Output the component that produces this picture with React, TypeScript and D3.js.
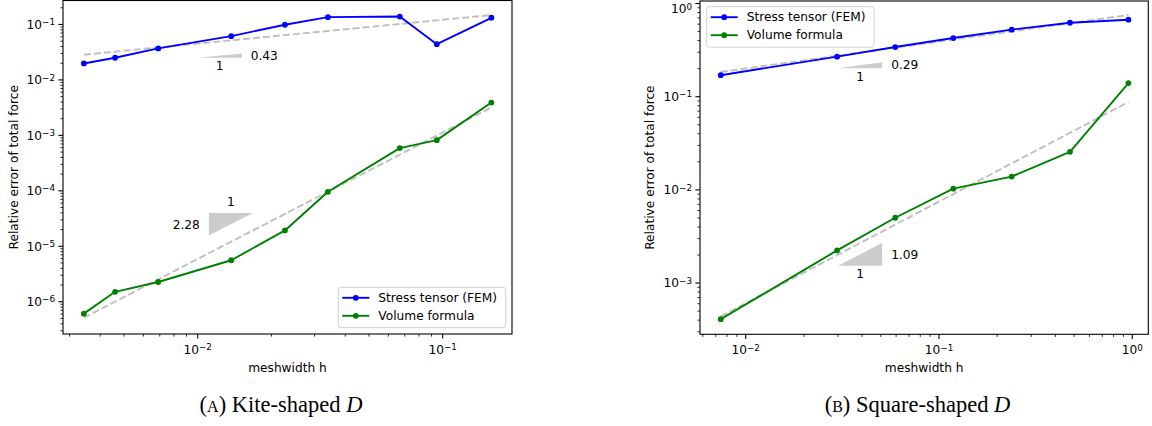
import * as d3 from 'd3'

const W = 1152, H = 426
const FONT = 'DejaVu Sans'

// (A) kite-shaped domain
const KITE_H = [0.00343, 0.0046, 0.0069, 0.0137, 0.0227, 0.034, 0.0668, 0.0946, 0.158]
const KITE_STRESS = [0.0198, 0.0251, 0.037, 0.0615, 0.0988, 0.1355, 0.139, 0.0441, 0.132]
const KITE_VOLUME = [6.1e-7, 1.51e-6, 2.27e-6, 5.6e-6, 1.93e-5, 9.6e-5, 5.9e-4, 8.2e-4, 3.9e-3]
const KITE_RATES = [0.43, 2.28]
const KITE_FIT_START = [0.0285, 5.15e-7]

// (B) square-shaped domain
const SQUARE_H = [0.00743, 0.0297, 0.0594, 0.1186, 0.2377, 0.476, 0.955]
const SQUARE_STRESS = [0.17, 0.269, 0.341, 0.426, 0.524, 0.622, 0.67]
const SQUARE_VOLUME = [4.1e-4, 2.24e-3, 5.02e-3, 1.03e-2, 1.39e-2, 2.56e-2, 0.14]
const SQUARE_RATES = [0.29, 1.09]
const SQUARE_FIT_START = [0.184, 4.4e-4]

const SERIES_NAMES = ['Stress tensor (FEM)', 'Volume formula']
const COLORS = ['#0000ff', '#008000']
const CAPTIONS = [['A', 'Kite-shaped '], ['B', 'Square-shaped ']]

type Tri = { h: number; v: number; inverted?: boolean }

type PanelProps = {
  box: { x0: number; x1: number; y0: number; y1: number }
  xDom: [number, number]
  yDom: [number, number]
  h: number[]
  series: number[][]
  rates: number[]
  fitStart: number[]
  tris: Tri[]
  legend: { x: number; y: number }
  ylabelX: number
  caption: string[]
  captionX: number
}

function Pow10({ v }: { v: number }) {
  const e = Math.round(Math.log10(v))
  return (
    <>
      10<tspan fontSize={8.8} dy={-3.6}>{e < 0 ? '\u2212' + -e : e}</tspan>
    </>
  )
}

function Panel(p: PanelProps) {
  const { box } = p
  const x = d3.scaleLog().domain(p.xDom).range([box.x0, box.x1])
  const y = d3.scaleLog().domain(p.yDom).range([box.y1, box.y0])
  const line = d3.line<[number, number]>().x(d => x(d[0])).y(d => y(d[1]))
  const isMajor = (t: number) => Math.abs(Math.log10(t) - Math.round(Math.log10(t))) < 1e-9
  const xt = x.ticks().filter(t => t >= p.xDom[0] && t <= p.xDom[1])
  const yt = y.ticks().filter(t => t >= p.yDom[0] && t <= p.yDom[1])
  const h0 = p.h[0], hN = p.h[p.h.length - 1]
  const midY = (box.y0 + box.y1) / 2

  return (
    <g fontFamily={FONT}>
      {/* fitted rates */}
      {p.rates.map((r, i) => (
        <path key={'fit' + i}
          d={line([[h0, p.fitStart[i]], [hN, p.fitStart[i] * Math.pow(hN / h0, r)]]) || ''}
          fill="none" stroke="#bfbfbf" strokeWidth={1.9} strokeDasharray="7,3" />
      ))}
      {/* slope triangles */}
      {p.tris.map((t, i) => {
        const r = p.rates[i]
        const xa = x(t.h), xb = xa + 44
        const hb = x.invert(xb)
        const ya = y(t.v)
        const label = r.toFixed(2)
        if (!t.inverted) {
          const yb = y(t.v * Math.pow(hb / t.h, r))
          return (
            <g key={'tri' + i}>
              <polygon points={`${xa},${ya} ${xb},${ya} ${xb},${yb}`} fill="#cccccc" />
              <text x={(xa + xb) / 2} y={ya + 8} dy="0.35em" textAnchor="middle" fontSize={12.2}>1</text>
              <text x={xb + 9} y={(ya + yb) / 2} dy="0.35em" fontSize={12.2}>{label}</text>
            </g>
          )
        }
        const yb = y(t.v / Math.pow(hb / t.h, r))
        return (
          <g key={'tri' + i}>
            <polygon points={`${xa},${ya} ${xb},${ya} ${xa},${yb}`} fill="#cccccc" />
            <text x={(xa + xb) / 2} y={ya - 11} dy="0.35em" textAnchor="middle" fontSize={12.2}>1</text>
            <text x={xa - 9} y={(ya + yb) / 2} dy="0.35em" textAnchor="end" fontSize={12.2}>{label}</text>
          </g>
        )
      })}
      {/* data */}
      {p.series.map((s, i) => (
        <g key={'s' + i}>
          <path d={line(p.h.map((hv, j) => [hv, s[j]] as [number, number])) || ''}
            fill="none" stroke={COLORS[i]} strokeWidth={1.9} strokeLinejoin="round" />
          {p.h.map((hv, j) => (
            <circle key={j} cx={x(hv)} cy={y(s[j])} r={2.9} fill={COLORS[i]} />
          ))}
        </g>
      ))}
      {/* frame */}
      <rect x={box.x0} y={box.y0} width={box.x1 - box.x0} height={box.y1 - box.y0}
        fill="none" stroke="#000" strokeWidth={1.1} />
      {/* x ticks */}
      {xt.map((t, i) => (
        <g key={'xt' + i} transform={`translate(${x(t)},${box.y1})`}>
          <line y2={isMajor(t) ? 4.6 : 2.6} stroke="#000" strokeWidth={isMajor(t) ? 1.1 : 0.8} />
          {isMajor(t) && (
            <text y={20} textAnchor="middle" fontSize={12.2}><Pow10 v={t} /></text>
          )}
        </g>
      ))}
      {/* y ticks */}
      {yt.map((t, i) => (
        <g key={'yt' + i} transform={`translate(${box.x0},${y(t)})`}>
          <line x2={isMajor(t) ? -4.6 : -2.6} stroke="#000" strokeWidth={isMajor(t) ? 1.1 : 0.8} />
          {isMajor(t) && (
            <text x={-8} y={Math.max(0, 9 - y(t))} dy="0.35em" textAnchor="end" fontSize={12.2}><Pow10 v={t} /></text>
          )}
        </g>
      ))}
      <text x={(box.x0 + box.x1) / 2} y={368} dy="0.35em" textAnchor="middle" fontSize={12.2}>meshwidth h</text>
      <text transform={`translate(${p.ylabelX},${midY}) rotate(-90)`} dy="0.35em" textAnchor="middle" fontSize={12.2}>
        Relative error of total force
      </text>
      {/* legend */}
      <g transform={`translate(${p.legend.x},${p.legend.y})`}>
        <rect width={167.4} height={40.4} rx={2.5} fill="#fff" fillOpacity={0.8} stroke="#d0d0d0" strokeWidth={1} />
        {SERIES_NAMES.map((n, i) => (
          <g key={n} transform={`translate(0,${10.5 + i * 18})`}>
            <line x1={4} x2={31} stroke={COLORS[i]} strokeWidth={1.9} />
            <circle cx={17.5} r={2.9} fill={COLORS[i]} />
            <text x={40} dy="0.35em" fontSize={12.2}>{n}</text>
          </g>
        ))}
      </g>
      {/* caption */}
      <text x={p.captionX} y={412} textAnchor="middle" fontFamily="Liberation Serif" fontSize={22.5}>
        (<tspan fontSize={16}>{p.caption[0]}</tspan>) {p.caption[1]}<tspan fontStyle="italic">D</tspan>
      </text>
    </g>
  )
}

export default function App() {
  return (
    <svg width={W} height={H} viewBox={`0 0 ${W} ${H}`}
      style={{ position: 'absolute', left: 0, top: 0, background: '#fff' }}>
      <Panel
        box={{ x0: 63, x1: 512, y0: 0.5, y1: 334 }}
        xDom={[0.002819, 0.1918]}
        yDom={[2.62e-7, 0.2704]}
        h={KITE_H}
        series={[KITE_STRESS, KITE_VOLUME]}
        rates={KITE_RATES}
        fitStart={KITE_FIT_START}
        tris={[{ h: 0.01, v: 0.0251 }, { h: 0.0111, v: 4.0e-5, inverted: true }]}
        legend={{ x: 338.3, y: 287.3 }}
        ylabelX={14}
        caption={CAPTIONS[0]}
        captionX={281}
      />
      <Panel
        box={{ x0: 700, x1: 1148.3, y0: 1, y1: 334.3 }}
        xDom={[0.005803, 1.21]}
        yDom={[2.82e-4, 1.064]}
        h={SQUARE_H}
        series={[SQUARE_STRESS, SQUARE_VOLUME]}
        rates={SQUARE_RATES}
        fitStart={SQUARE_FIT_START}
        tris={[{ h: 0.0301, v: 0.2017 }, { h: 0.0301, v: 1.53e-3 }]}
        legend={{ x: 706.7, y: 6.7 }}
        ylabelX={650}
        caption={CAPTIONS[1]}
        captionX={917.5}
      />
    </svg>
  )
}
